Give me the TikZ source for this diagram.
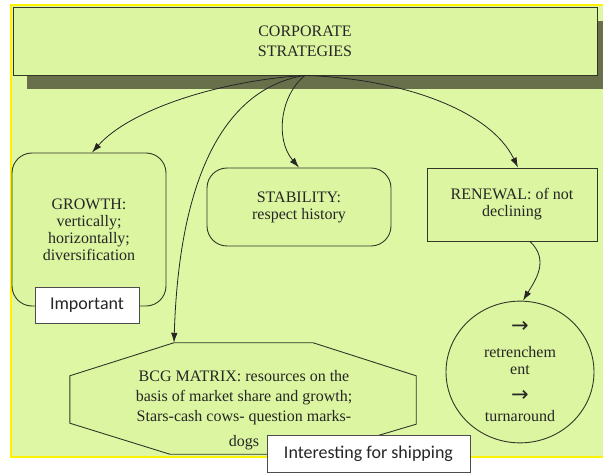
\documentclass[tikz,border=0pt]{standalone}
\usepackage{fontspec}
\setmainfont{Liberation Serif}
\newfontfamily\calib{Carlito}
\newfontfamily\arrowfont{DejaVu Sans}
\usetikzlibrary{shapes.geometric,shadows,arrows.meta}
\definecolor{paper}{RGB}{222,247,164}
\definecolor{boxfill}{RGB}{219,245,160}
\definecolor{shade}{RGB}{103,112,74}
\definecolor{edge}{RGB}{50,55,40}
\newcommand\turnarrow{{\arrowfont\fontsize{21}{17}\selectfont →}}

\begin{document}
\begin{tikzpicture}[x=1pt,y=-1pt,
  every node/.style={font=\fontsize{16}{17}\selectfont, align=center, text=black!85},
  box/.style={draw=edge, line width=0.9pt, fill=boxfill, inner sep=0pt},
  roundbox/.style={box, rounded corners=20pt},
  note/.style={draw=black!70, fill=white, line width=0.7pt, inner sep=0pt,
    font=\calib\fontsize{18}{20}\selectfont},
  link/.style={draw=black!85, line width=0.8pt, -{Latex[length=10pt,width=6.5pt]}}]
\useasboundingbox (0,0) rectangle (603,473);
\fill[white] (0,0) rectangle (603,473);
\draw[yellow, line width=1.5pt, fill=paper] (11,5) rectangle (606,457);

% top box with its shadow
\node[box, minimum width=584pt, minimum height=68pt,
  drop shadow={shadow xshift=14pt, shadow yshift=-14pt, fill=shade, opacity=1}]
  (corp) at (305,41) {CORPORATE\\[3pt]STRATEGIES};

% the four strategies
\node[roundbox, minimum width=154pt, minimum height=153pt] (growth) at (89,229.5)
  {GROWTH:\\vertically;\\horizontally;\\diversification};
\node[roundbox, minimum width=184pt, minimum height=78pt] (stab) at (299,207)
  {STABILITY:\\respect history};
\node[box, minimum width=170pt, minimum height=73pt] (renew) at (512,204.5)
  {RENEWAL: of not\\declining};
\node[box, ellipse, minimum width=148pt, minimum height=140pt] (turn) at (520,372)
  {\turnarrow\\[8pt]retrenchem\\ent\\[10pt]\turnarrow\\[3pt]turnaround};

% octagon round the matrix
\node[minimum width=346pt, minimum height=111pt] (bcg) at (243,398.5) {};
\draw[box] ([xshift=104pt]bcg.north west) -- ([xshift=-103pt]bcg.north east)
  -- ([yshift=-33pt]bcg.north east) -- ([yshift=30pt]bcg.south east)
  -- ([xshift=-101pt]bcg.south east) -- ([xshift=100pt]bcg.south west)
  -- ([yshift=31pt]bcg.south west) -- ([yshift=-33pt]bcg.north west) -- cycle;
\node[font=\fontsize{16}{20}\selectfont] (bcgtext) at (244,410)
  {BCG MATRIX: resources on the\\basis of market share and growth;\\
   Stars-cash cows- question marks-\\[5pt]dogs};

% remarks
\node[note, minimum width=104pt, minimum height=36pt] (imp) at (87,305) {Important};
\node[note, minimum width=203pt, minimum height=37pt] (ship) at (368.5,453.5)
  {Interesting for shipping};

% connectors
\draw[link] (corp.south) .. controls +(-85,5) and +(38,-43) .. ([xshift=3pt]growth.north);
\draw[link] (corp.south) .. controls +(-65,10) and +(6,-193) .. ([xshift=-69pt]bcg.north);
\draw[link] (corp.south) .. controls +(-25,20) and +(-24,-28) .. (stab.north);
\draw[link] (corp.south) .. controls +(95,3) and +(-28,-58) .. ([xshift=6pt]renew.north);
\draw[link] ([xshift=18pt]renew.south) .. controls +(20,19) and +(12,-20) .. ([xshift=3pt]turn.north);
\end{tikzpicture}
\end{document}
